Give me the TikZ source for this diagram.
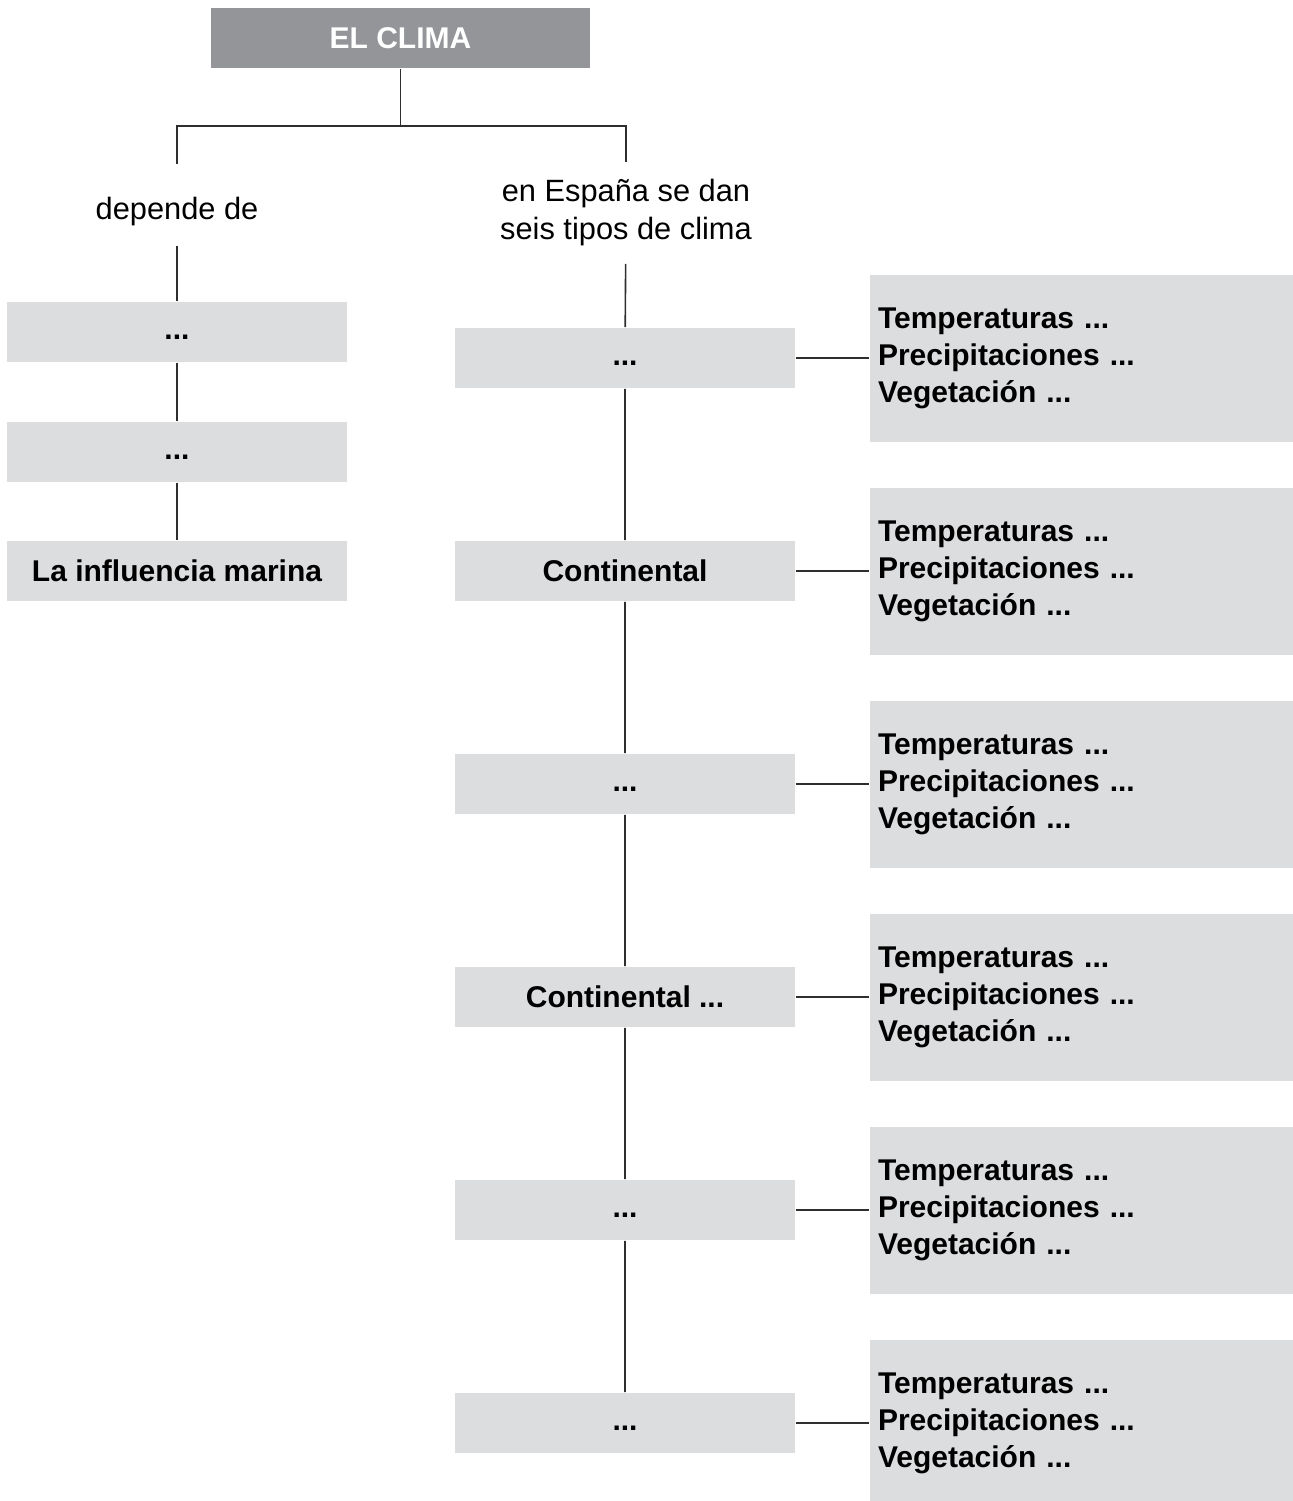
\documentclass[tikz,border=0pt]{standalone}
\usepackage{fontspec}
\setmainfont{Liberation Sans}
\usepackage{tikz}
\usepackage{xcolor}
\definecolor{headgray}{HTML}{939598}
\definecolor{boxgray}{HTML}{DCDDDF}
\definecolor{linegray}{HTML}{2E2E2E}
\newcommand{\etc}{\vphantom{x}...}

\begin{document}
\begin{tikzpicture}[x=0.5pt,y=-0.5pt,font=\fontsize{15.4}{19}\selectfont,
  line width=0.8pt,
  headbox/.style={rectangle,fill=headgray,text=white,font=\fontsize{15}{18.5}\selectfont\bfseries,minimum width=189.5pt,minimum height=30pt,inner sep=0pt},
  leafbox/.style={rectangle,fill=boxgray,font=\fontsize{15}{18.5}\selectfont\bfseries,minimum width=170pt,minimum height=30pt,inner sep=0pt},
  infobox/.style={rectangle,fill=boxgray,font=\fontsize{15}{18.5}\selectfont\bfseries,align=left,text width=203.5pt,minimum height=83.5pt,inner xsep=4pt,inner ysep=0pt},
  linklabel/.style={align=center,inner sep=0pt}]
\useasboundingbox (0,0) rectangle (1293,1501);
\node[headbox] (clima) at (400.5,38) {EL CLIMA};
\coordinate (split) at (400.5,126);
\node[linklabel,text height=14pt,text depth=0pt,minimum height=40pt] (dep) at (177,205) {depende de};
\node[linklabel,minimum height=50pt] (esp) at (626,213) {en España se dan\\seis tipos de clima};
\node[leafbox] (l1) at (177,332) {\etc};
\node[leafbox] (l2) at (177,452) {\etc};
\node[leafbox] (l3) at (177,571) {La influencia marina};
\node[leafbox] (m1) at (625,358) {\etc};
\node[leafbox] (m2) at (625,571) {Continental};
\node[leafbox] (m3) at (625,784) {\etc};
\node[leafbox] (m4) at (625,997) {Continental ...};
\node[leafbox] (m5) at (625,1210) {\etc};
\node[leafbox] (m6) at (625,1423) {\etc};
\node[infobox] (r1) at (1081.5,358) {Temperaturas ...\\Precipitaciones ...\\Vegetación ...};
\node[infobox] (r2) at (1081.5,571) {Temperaturas ...\\Precipitaciones ...\\Vegetación ...};
\node[infobox] (r3) at (1081.5,784) {Temperaturas ...\\Precipitaciones ...\\Vegetación ...};
\node[infobox] (r4) at (1081.5,997) {Temperaturas ...\\Precipitaciones ...\\Vegetación ...};
\node[infobox] (r5) at (1081.5,1210) {Temperaturas ...\\Precipitaciones ...\\Vegetación ...};
\node[infobox] (r6) at (1081.5,1423) {Temperaturas ...\\Precipitaciones ...\\Vegetación ...};
\draw[linegray] (clima) -- (split);
\draw[linegray] (dep) |- (split) -| (esp);
\draw[linegray] (dep) -- (l1) -- (l2) -- (l3);
\draw[linegray] (esp) -- (m1) -- (m2) -- (m3) -- (m4) -- (m5) -- (m6);
\draw[linegray] (m1) -- (r1);
\draw[linegray] (m2) -- (r2);
\draw[linegray] (m3) -- (r3);
\draw[linegray] (m4) -- (r4);
\draw[linegray] (m5) -- (r5);
\draw[linegray] (m6) -- (r6);
\end{tikzpicture}
\end{document}
